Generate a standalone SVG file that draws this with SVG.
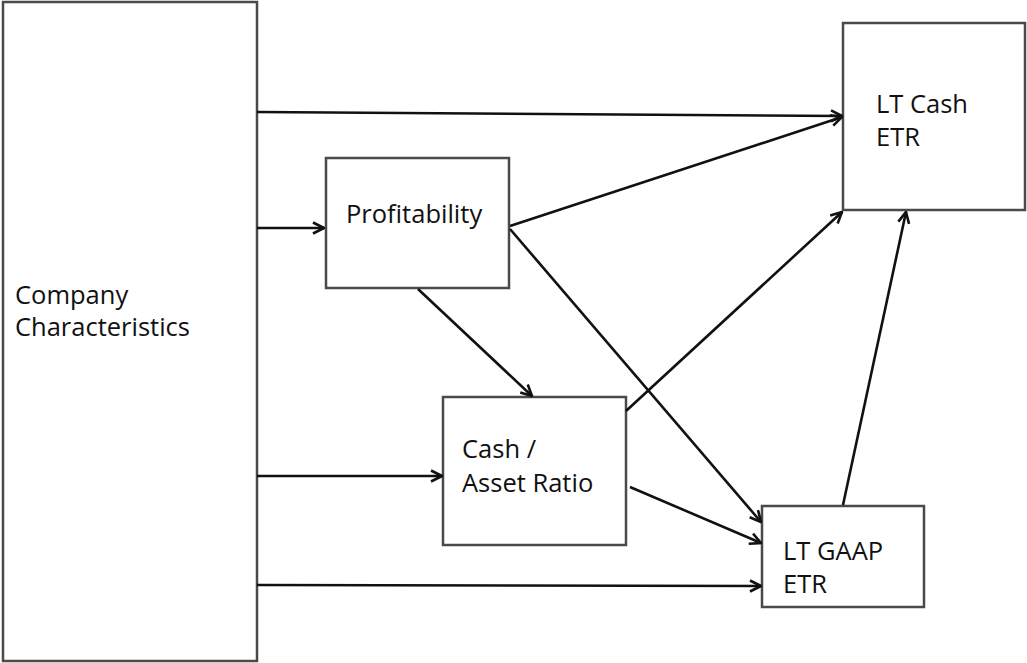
<svg xmlns="http://www.w3.org/2000/svg" width="1027" height="663" viewBox="0 0 1027 663">
<defs>
<style>
.box{fill:#fff;stroke:#4a4a4a;stroke-width:2.5}
.lbl{font-family:"Open Sans","Liberation Sans",sans-serif;font-size:25.5px;fill:#111}
.arr{fill:none;stroke:#111;stroke-width:2.6;marker-end:url(#ah)}
</style>
<marker id="ah" viewBox="0 0 14 14" refX="13" refY="7" markerWidth="14" markerHeight="14" markerUnits="userSpaceOnUse" orient="auto">
<path d="M2,1.5 L13,7 L2,12.5" fill="none" stroke="#111" stroke-width="2.6" stroke-linejoin="miter"/>
</marker>
</defs>
<rect width="1027" height="663" fill="#fff"/>
<g id="company">
<rect class="box" x="3" y="2" width="254" height="659"/>
<text class="lbl" x="15" y="304">Company</text>
<text class="lbl" x="15" y="336">Characteristics</text>
</g>
<g id="profitability">
<rect class="box" x="326" y="158" width="183" height="130"/>
<text class="lbl" x="346" y="223">Profitability</text>
</g>
<g id="cash-asset">
<rect class="box" x="443" y="397" width="183" height="148"/>
<text class="lbl" x="462" y="458">Cash /</text>
<text class="lbl" x="462" y="492">Asset Ratio</text>
</g>
<g id="lt-cash">
<rect class="box" x="843" y="23" width="182" height="187"/>
<text class="lbl" x="876" y="113">LT Cash</text>
<text class="lbl" x="876" y="146">ETR</text>
</g>
<g id="lt-gaap">
<rect class="box" x="762" y="506" width="162" height="101"/>
<text class="lbl" x="783" y="560">LT GAAP</text>
<text class="lbl" x="783" y="593">ETR</text>
</g>
<g id="connectors">
<line class="arr" x1="257" y1="112" x2="842" y2="116"/>
<line class="arr" x1="257" y1="228" x2="324" y2="228"/>
<line class="arr" x1="257" y1="476" x2="442" y2="476"/>
<line class="arr" x1="257" y1="585" x2="761" y2="586"/>
<line class="arr" x1="510" y1="226" x2="842" y2="117"/>
<line class="arr" x1="510" y1="229" x2="761" y2="522"/>
<line class="arr" x1="418" y1="289" x2="532" y2="396"/>
<line class="arr" x1="626" y1="411" x2="842" y2="212"/>
<line class="arr" x1="630" y1="487" x2="761" y2="543"/>
<line class="arr" x1="843" y1="505" x2="906" y2="212"/>
</g>
</svg>
